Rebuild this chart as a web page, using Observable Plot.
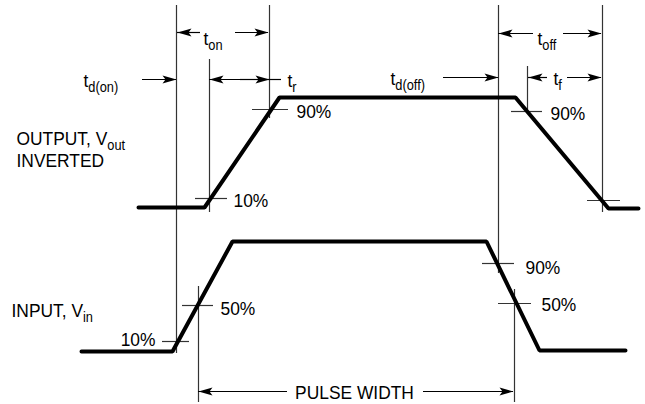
<!DOCTYPE html>
<html>
<head>
<meta charset="utf-8">
<script src="https://cdn.jsdelivr.net/npm/d3@7"></script>
<script src="https://cdn.jsdelivr.net/npm/@observablehq/plot@0.6"></script>
<style>
  html, body { margin: 0; padding: 0; background: #fff; }
  #chart svg { display: block; }
</style>
</head>
<body>
<div id="chart"></div>
<script>
// Waveform breakpoints (diagram time units, diagram level units; level axis points down)
const outputT = [138, 204, 279, 515, 608, 638];
const outputV = [207, 207, 97, 97, 208, 208];
const inputT  = [81, 172, 232, 486, 539, 625];
const inputV  = [351, 351, 241, 241, 350, 350];

// Vertical timing reference lines
const refX  = [176, 269, 209, 498, 602, 527, 198, 514];
const refY1 = [5, 5, 59, 5, 5, 66, 286, 289];
const refY2 = [353, 118, 212, 273, 212, 113, 402, 402];

// Short horizontal threshold ticks
const tickY  = [109, 198, 111, 200, 341, 305, 263, 303];
const tickX1 = [252, 195, 511, 587, 162, 182, 482, 498];
const tickX2 = [288, 227, 542, 620, 189, 213, 514, 531];

// Dimension arrows: from x1 to x2 at y, head at x2
const arrX1 = [200, 235, 142, 250, 240, 533, 563, 443, 547, 567, 287, 423];
const arrX2 = [177, 268, 176, 209, 269, 498, 601, 498, 528, 601, 198, 513];
const arrY  = [32, 32, 79, 79, 79, 33, 33, 77, 77, 77, 391, 391];
// extension of the t_r line beyond the t_on boundary
const extX1 = [269], extX2 = [281], extY = [79];

// Labels ("_" starts a subscript), left-anchored
const labelText = ["t_on", "t_d(on)", "t_r", "t_d(off)", "t_off", "t_f",
  "90%", "10%", "90%", "OUTPUT, V_out", "INVERTED",
  "INPUT, V_in", "50%", "90%", "50%"];
const labelX = [203, 83, 287, 390, 537, 553,
  296, 233, 550, 16, 16,
  11, 220, 525, 541];
const labelY = [38, 80, 80, 78, 38, 78,
  111, 200, 113, 138, 160,
  310, 308, 267, 304];
// right-anchored label
const endText = ["10%"], endX = [155], endY = [339];
// centred label
const pulseText = ["PULSE WIDTH"], pulseX = [354], pulseY = [392];

const out = outputT.map((t, i) => ({t, v: outputV[i]}));
const inp = inputT.map((t, i) => ({t, v: inputV[i]}));
const refs = refX.map((x, i) => ({x, y1: refY1[i], y2: refY2[i]}));
const ticks = tickY.map((y, i) => ({y, x1: tickX1[i], x2: tickX2[i]}));
const arrows = arrX1.map((x1, i) => ({x1, x2: arrX2[i], y: arrY[i]}));
const exts = extX1.map((x1, i) => ({x1, x2: extX2[i], y: extY[i]}));
const labels = labelText.map((text, i) => ({text, x: labelX[i], y: labelY[i]}));
const endLabels = endText.map((text, i) => ({text, x: endX[i], y: endY[i]}));
const pulse = pulseText.map((text, i) => ({text, x: pulseX[i], y: pulseY[i]}));

// filled, slightly notched arrowhead pointing to +x, tip at origin
const arrowHead = {
  draw(ctx) {
    const L = 14, W = 8, N = 3;
    ctx.moveTo(0, 0);
    ctx.lineTo(-L, -W / 2);
    ctx.lineTo(-L + N, 0);
    ctx.lineTo(-L, W / 2);
    ctx.closePath();
  }
};

const thin = {stroke: "#333", strokeWidth: 1.2};
const font = "'Liberation Sans', Arial, Helvetica, sans-serif";
const txt = {x: "x", y: "y", text: "text", fontSize: 19, fill: "#000"};

const chart = Plot.plot({
  width: 645,
  height: 404,
  margin: 0,
  style: {fontFamily: font, background: "#fff", color: "#000"},
  x: {domain: [0, 645], range: [0, 645], axis: null},
  y: {domain: [0, 404], range: [0, 404], axis: null},
  marks: [
    Plot.ruleX(refs, {x: "x", y1: "y1", y2: "y2", ...thin}),
    Plot.ruleY(ticks, {y: "y", x1: "x1", x2: "x2", ...thin}),
    Plot.ruleY(arrows, {y: "y", x1: "x1", x2: "x2", stroke: "#000", strokeWidth: 1.2}),
    Plot.ruleY(exts, {y: "y", x1: "x1", x2: "x2", stroke: "#000", strokeWidth: 1.2}),
    Plot.dot(arrows, {x: "x2", y: "y", symbol: arrowHead, r: 4, fill: "#000", stroke: "none",
      rotate: d => d.x2 > d.x1 ? 0 : 180}),
    Plot.line(out, {x: "t", y: "v", stroke: "#000", strokeWidth: 4, strokeLinejoin: "miter", strokeLinecap: "round"}),
    Plot.line(inp, {x: "t", y: "v", stroke: "#000", strokeWidth: 4, strokeLinejoin: "miter", strokeLinecap: "round"}),
    Plot.text(labels, {...txt, textAnchor: "start"}),
    Plot.text(endLabels, {...txt, textAnchor: "end"}),
    Plot.text(pulse, {...txt, textAnchor: "middle"})
  ]
});

// turn "X_sub" labels into a subscript tspan
d3.select(chart).selectAll("text").each(function () {
  const s = this.textContent;
  const k = s.indexOf("_");
  if (k < 0) return;
  const el = d3.select(this);
  el.text(null);
  el.append("tspan").text(s.slice(0, k));
  el.append("tspan").attr("font-size", "14px").attr("dy", "5").text(s.slice(k + 1));
});

document.getElementById("chart").appendChild(chart);

// condensed lettering: squeeze each label to ~91% of its natural width
const SX = 0.915;
d3.select(chart).selectAll("text").each(function () {
  const w = this.getComputedTextLength();
  if (w > 0) {
    this.setAttribute("textLength", (w * SX).toFixed(1));
    this.setAttribute("lengthAdjust", "spacingAndGlyphs");
  }
});
</script>
</body>
</html>
